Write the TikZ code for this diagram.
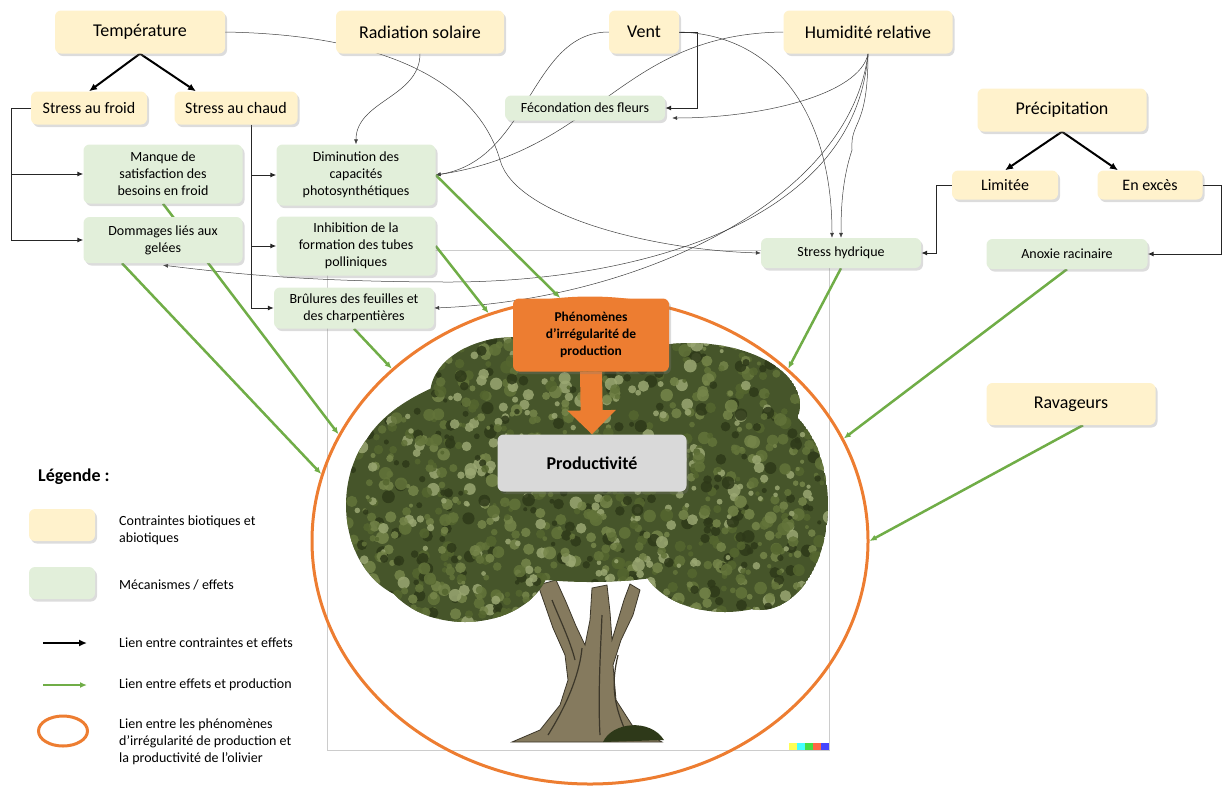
\documentclass[tikz,border=0pt]{standalone}
\usepackage{fontspec}
\setmainfont{Carlito}
\usepackage{xcolor}
\usepackage{tikz}
\usetikzlibrary{shapes.geometric,shadows,arrows.meta}

\definecolor{jaune}{HTML}{FFF2CC}
\definecolor{vertclair}{HTML}{E2EFDA}
\definecolor{vertfleche}{HTML}{70AD47}
\definecolor{orangeb}{HTML}{ED7D31}
\definecolor{grisprod}{HTML}{D9D9D9}
\definecolor{feuille}{HTML}{46552A}
\definecolor{leafc0}{HTML}{2E3919}
\definecolor{leafc1}{HTML}{55662F}
\definecolor{leafc2}{HTML}{76864A}
\definecolor{leafc3}{HTML}{9AA772}
\definecolor{leafc4}{HTML}{63743A}
\definecolor{tronc}{HTML}{857A5E}
\definecolor{bande1}{HTML}{FFFF55}
\definecolor{bande2}{HTML}{44FFFF}
\definecolor{bande3}{HTML}{44DD44}
\definecolor{bande4}{HTML}{FF6644}
\definecolor{bande5}{HTML}{4444FF}

\pgfdeclarelayer{arbre}
\pgfdeclarelayer{liens}
\pgfsetlayers{arbre,liens,main}

\newcommand{\canopyshape}{(590,-470) ellipse [x radius=232, y radius=112]
 (420,-505) ellipse [x radius=74, y radius=95] (760,-505) ellipse [x radius=68, y radius=105]
 (515,-395) ellipse [x radius=85, y radius=58] (690,-405) ellipse [x radius=110, y radius=62]
 (465,-560) ellipse [x radius=85, y radius=62] (725,-555) ellipse [x radius=85, y radius=57]}

\tikzset{
 boite/.style={rounded corners=6pt, inner sep=0pt, align=center,
   drop shadow={shadow xshift=2pt, shadow yshift=-2.5pt, opacity=0.28}},
 contrainte/.style={boite, fill=jaune, font=\fontsize{18}{21}\selectfont},
 sous/.style={boite, fill=jaune, font=\fontsize{16}{19}\selectfont},
 effet/.style={boite, fill=vertclair, font=\fontsize{14}{17}\selectfont},
 legende/.style={anchor=west, align=left, inner sep=0pt, font=\fontsize{14}{17}\selectfont},
 fort/.style={-{Latex[length=8pt,width=7pt]}, line width=2pt},
 coude/.style={-{Latex[length=6pt,width=5pt]}, line width=1pt, draw=black!85},
 lien/.style={-{Latex[length=5pt,width=4pt]}, line width=0.5pt, draw=black!75},
 prod/.style={-{Latex[length=7pt,width=6pt]}, line width=2.5pt, draw=vertfleche},
 grosse/.style={-{Triangle[width=47pt,length=24pt]}, line width=22pt, draw=orangeb}
}

\begin{document}
\begin{tikzpicture}[x=1pt,y=1pt]
\useasboundingbox (0,0) rectangle (1222,-785);

% l'olivier
\begin{pgfonlayer}{arbre}
\draw[gray!40, line width=0.8pt] (327,-250) rectangle (829,-750);
\foreach \k in {1,...,5}
  \fill[bande\k] (781+8*\k,-743) rectangle ++(8,-7);
\fill[tronc, draw=black!55!tronc, line width=0.8pt] (512,-742) -- (540,-730) -- (560,-705) -- (568,-680)
  -- (565,-655) -- (553,-628) -- (545,-605) -- (538,-585) -- (556,-580) -- (566,-602) -- (576,-626)
  -- (585,-645) -- (590,-620) -- (592,-588) -- (607,-585) -- (610,-612) -- (612,-640) -- (618,-620)
  -- (624,-600) -- (630,-584) -- (640,-590) -- (633,-615) -- (621,-640) -- (613,-665) -- (616,-700)
  -- (632,-725) -- (662,-742) -- cycle;
\draw[black!55!tronc, line width=1.2pt] (548,-735) .. controls (570,-700) and (580,-670) .. (582,-648)
  (600,-735) .. controls (598,-700) and (600,-660) .. (602,-615)
  (625,-730) .. controls (612,-700) and (612,-680) .. (618,-655)
  (552,-600) .. controls (560,-620) and (570,-640) .. (575,-660);
\fill[leafc0] (603,-742) .. controls (612,-722) and (650,-718) .. (664,-740) -- cycle;
\begin{scope}
\clip \canopyshape;
\fill[feuille] \canopyshape;
\pgfmathsetseed{4}
\foreach \i in {1,...,1400}{
  \pgfmathsetmacro{\lx}{340+490*rnd}
  \pgfmathsetmacro{\ly}{-330-300*rnd}
  \pgfmathsetmacro{\lr}{2+4.5*rnd}
  \pgfmathtruncatemacro{\ls}{5*rnd}
  \fill[leafc\ls, opacity=0.85] (\lx,\ly) circle [radius=\lr];
}
\end{scope}
\end{pgfonlayer}

\node[ellipse, draw=orangeb, line width=3pt, minimum width=556pt, minimum height=486pt, inner sep=0pt] (cercle) at (590,-541) {};

% contraintes
\node[contrainte, minimum width=170, minimum height=43] (temp) at (140,-32) {Température};
\node[contrainte, minimum width=168, minimum height=43] (radi) at (420,-32) {Radiation solaire};
\node[contrainte, minimum width=70, minimum height=43] (vent) at (644,-32) {Vent};
\node[contrainte, minimum width=169, minimum height=43] (humi) at (868,-32) {Humidité relative};
\node[contrainte, minimum width=169, minimum height=43] (preci) at (1062,-110) {Précipitation};
\node[contrainte, minimum width=169, minimum height=42] (rav) at (1071,-404) {Ravageurs};
\node[sous, minimum width=116, minimum height=33] (froid) at (89,-108) {Stress au froid};
\node[sous, minimum width=123, minimum height=33] (chaud) at (236,-108) {Stress au chaud};
\node[sous, minimum width=106, minimum height=29] (lim) at (1005,-185) {Limitée};
\node[sous, minimum width=105, minimum height=29] (exces) at (1150,-185) {En excès};

% effets
\node[effet, minimum width=159, minimum height=59] (manque) at (163,-174) {Manque de\\satisfaction des\\besoins en froid};
\node[effet, minimum width=159, minimum height=46] (gel) at (163,-240) {Dommages liés aux\\gelées};
\node[effet, minimum width=159, minimum height=61] (dimin) at (356,-175) {Diminution des\\capacités\\photosynthétiques};
\node[effet, minimum width=159, minimum height=59] (inhib) at (356,-246) {Inhibition de la\\formation des tubes\\polliniques};
\node[effet, minimum width=160, minimum height=41] (brul) at (354,-308) {Brûlures des feuilles et\\des charpentières};
\node[effet, minimum width=160, minimum height=25] (feco) at (585,-108) {Fécondation des fleurs};
\node[effet, minimum width=160, minimum height=30] (hydr) at (841,-253) {Stress hydrique};
\node[effet, minimum width=161, minimum height=30] (anox) at (1067,-254) {Anoxie racinaire};

% production
\node[boite, fill=grisprod, minimum width=189, minimum height=57, font=\fontsize{18}{21}\selectfont\bfseries] (prodv) at (592,-463) {Productivité};
\node[boite, fill=orangeb, minimum width=156, minimum height=73, font=\fontsize{13.5}{17}\selectfont\bfseries] (phen) at (591,-335) {Phénomènes\\d’irrégularité de\\production};

% legende
\node[anchor=west, inner sep=0pt, font=\fontsize{18}{21}\selectfont\bfseries] (legtitre) at (38,-477) {Légende :};
\node[contrainte, minimum width=66, minimum height=32] (legj) at (62,-525) {};
\node[effet, minimum width=66, minimum height=32] (legv) at (62,-583) {};
\node[ellipse, draw=orangeb, line width=3pt, minimum width=49, minimum height=30, inner sep=0pt] (lego) at (63,-731) {};
\coordinate (la1) at (43,-643);
\coordinate (la2) at (87,-643);
\coordinate (lb1) at (43,-685);
\coordinate (lb2) at (87,-685);
\node[legende] (legt1) at (119,-530) {Contraintes biotiques et\\abiotiques};
\node[legende] (legt2) at (119,-585) {Mécanismes / effets};
\node[legende] (legt3) at (119,-643) {Lien entre contraintes et effets};
\node[legende] (legt4) at (119,-685) {Lien entre effets et production};
\node[legende] (legt5) at (119,-742) {Lien entre les phénomènes\\d’irrégularité de production et\\la productivité de l’olivier};

\begin{pgfonlayer}{liens}
\draw[fort] (temp.south) -- (froid.north);
\draw[fort] (temp.south) -- ([xshift=-40pt]chaud.north);
\draw[fort] (preci.south) -- (lim.north);
\draw[fort] (preci.south) -- ([xshift=-32pt]exces.north);

\draw[coude] (froid.west) -- ++(-19,0) |- (manque.west);
\draw[coude] (froid.west) -- ++(-19,0) |- (gel.west);
\draw[coude] ([xshift=15pt]chaud.south) |- (dimin.west);
\draw[coude] ([xshift=15pt]chaud.south) |- (inhib.west);
\draw[coude] ([xshift=15pt]chaud.south) |- (brul.west);
\draw[coude] (vent.east) -- ++(18,0) |- (feco.east);
\draw[coude] (lim.west) -- ++(-15,0) |- (hydr.east);
\draw[coude] (exces.east) -- ++(19,0) |- (anox.east);

\draw[lien] (temp.east) .. controls (400,-35) and (480,-90) .. (500,-160)
  .. controls (515,-215) and (650,-250) .. (hydr.west);
\draw[lien] (radi.south) to[out=-90,in=90] (dimin.north);
\draw[lien] (vent.west) .. controls (530,-32) and (530,-160) .. (dimin.east);
\draw[lien] (humi.west) .. controls (620,-34) and (600,-150) .. (dimin.east);
\draw[lien] (humi.south) .. controls (860,-95) and (760,-118) .. ([shift={(7pt,-10pt)}]feco.east);
\draw[lien] (humi.south) .. controls (868,-130) and (850,-120) .. (852,-150)
  .. controls (842,-180) and (841,-210) .. (hydr.north);
\draw[lien] (vent.east) .. controls (780,-35) and (832,-120) .. ([xshift=-9pt]hydr.north);
\draw[lien] (humi.south) .. controls (855,-230) and (620,-282) .. (450,-282)
  .. controls (300,-282) and (220,-272) .. ([yshift=-2pt]gel.south);
\draw[lien] (humi.south) .. controls (850,-200) and (640,-300) .. (brul.east);

\draw[prod] (manque.south) -- (cercle.157);
\draw[prod] ([xshift=-41pt]gel.south) -- (cercle.166);
\draw[prod] (dimin.east) -- (cercle.97);
\draw[prod] (inhib.east) -- (cercle.114);
\draw[prod] (brul.south) -- (cercle.139);
\draw[prod] (hydr.south) -- (cercle.41);
\draw[prod] (anox.south) -- (cercle.22);
\draw[prod] ([xshift=12pt]rav.south) -- (cercle.0);

\draw[grosse] (phen.south) -- (prodv.north);

\draw[fort, line width=1.5pt] (la1) -- (la2);
\draw[prod] (lb1) -- (lb2);
\end{pgfonlayer}
\end{tikzpicture}
\end{document}
